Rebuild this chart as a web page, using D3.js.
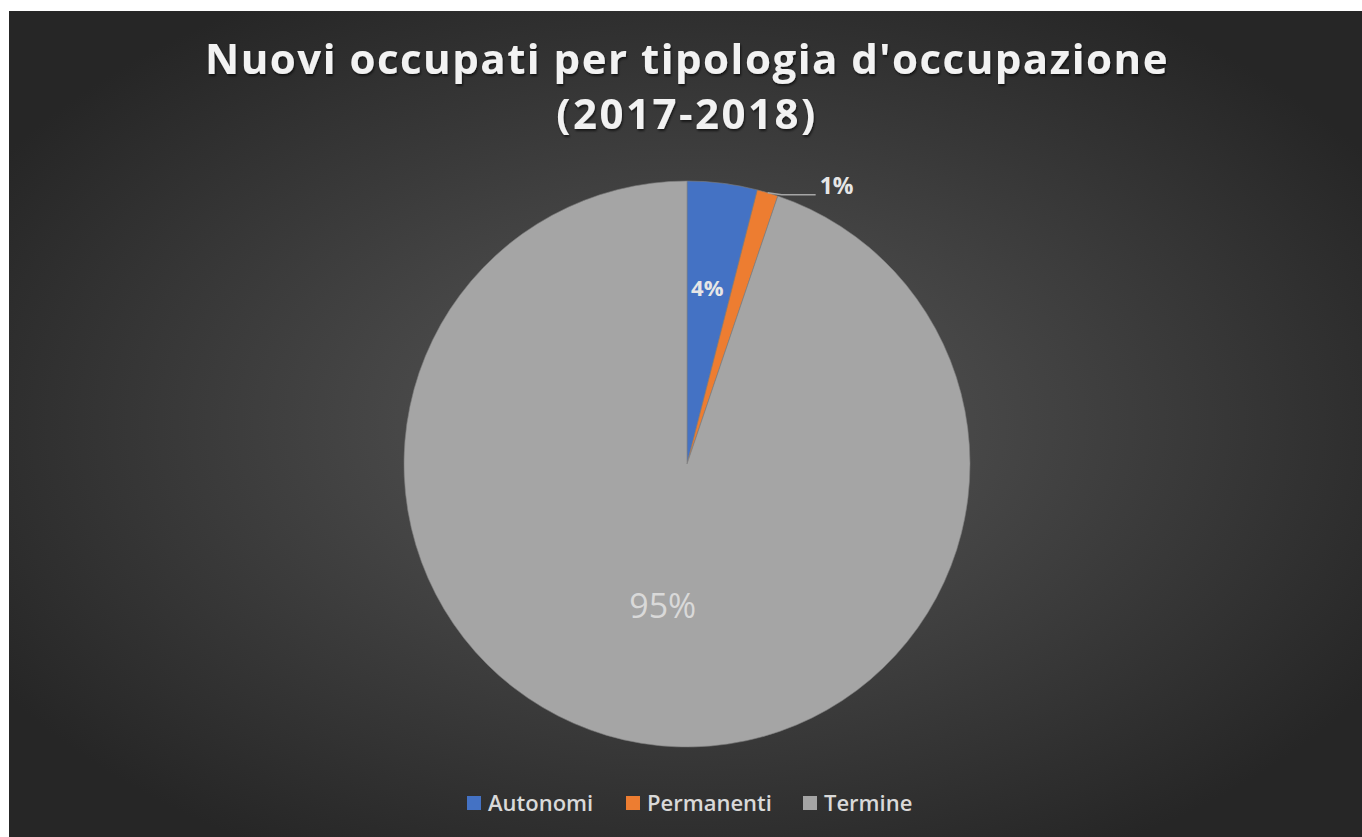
<!DOCTYPE html>
<html>
<head>
<meta charset="utf-8">
<script src="https://cdn.jsdelivr.net/npm/d3@7"></script>
<style>
  html, body { margin: 0; padding: 0; background: #fff; }
  svg { display: block; }
</style>
</head>
<body>
<div id="chart"></div>
<script>
// data
const categories = ["Autonomi", "Permanenti", "Termine"];
const shares = [4.0, 1.2, 94.8];
const labels = ["4%", "1%", "95%"];
const colours = ["#4472c4", "#ed7d31", "#a5a5a5"];
const titleLines = ["Nuovi occupati per tipologia d'occupazione", "(2017-2018)"];

const W = 1362, H = 837;
const bg = { x: 9, y: 11 };
const cx = 687, cy = 464, radius = 283;

const svg = d3.select("#chart").append("svg")
    .attr("width", W).attr("height", H);

const defs = svg.append("defs");
const grad = defs.append("radialGradient").attr("id", "bgGrad")
    .attr("cx", "50%").attr("cy", "50%").attr("r", "60%");
grad.append("stop").attr("offset", "0%").attr("stop-color", "#595959");
grad.append("stop").attr("offset", "100%").attr("stop-color", "#262626");

const shadow = defs.append("filter").attr("id", "shadow")
    .attr("x", "-5%").attr("y", "-20%").attr("width", "110%").attr("height", "140%");
shadow.append("feDropShadow")
    .attr("dx", 1).attr("dy", 2).attr("stdDeviation", 1.2)
    .attr("flood-color", "#000").attr("flood-opacity", 0.6);

svg.append("rect")
    .attr("x", bg.x).attr("y", bg.y)
    .attr("width", W - bg.x).attr("height", H - bg.y)
    .attr("fill", "url(#bgGrad)");

// title, two lines
const titleFont = "'Open Sans', 'Noto Sans', sans-serif";
svg.selectAll("text.title").data(titleLines).join("text")
    .attr("class", "title")
    .attr("x", cx)
    .attr("y", (d, i) => 74 + i * 55)
    .attr("text-anchor", "middle")
    .attr("fill", "#f2f2f2")
    .attr("filter", "url(#shadow)")
    .style("font-family", titleFont)
    .style("font-weight", "bold")
    .style("font-size", "42px")
    .style("letter-spacing", (d, i) => i === 0 ? "1.5px" : "2.5px")
    .text(d => d);

// pie
const pie = d3.pie().sort(null).value(d => d.v);
const arcs = pie(categories.map((c, i) => ({ c, v: shares[i], i })));
const arc = d3.arc().innerRadius(0).outerRadius(radius);

const g = svg.append("g").attr("transform", `translate(${cx},${cy})`);
g.selectAll("path.slice").data(arcs).join("path")
    .attr("class", "slice")
    .attr("d", arc)
    .attr("fill", d => colours[d.data.i])
    .attr("stroke", "#7f7f7f")
    .attr("stroke-width", 0.6);

// data labels
const labelFont = "'Open Sans', 'Noto Sans', sans-serif";
const inner = d3.arc().innerRadius(radius * 0.6).outerRadius(radius * 0.6);

// Autonomi, inside
g.append("text")
    .datum(arcs[0])
    .attr("x", d => inner.centroid(d)[0] - 1)
    .attr("y", d => inner.centroid(d)[1] + 0)
    .attr("text-anchor", "middle")
    .attr("fill", "#e6e6e6")
    .style("font-family", labelFont).style("font-weight", "bold").style("font-size", "22px")
    .text(labels[0]);

// Permanenti, outside with leader
const pa = arcs[1];
const mid = (pa.startAngle + pa.endAngle) / 2;
const edge = [Math.sin(mid) * radius, -Math.cos(mid) * radius];
g.append("polyline")
    .attr("points", [edge, [edge[0] + 14, edge[1] + 2], [edge[0] + 48, edge[1] + 2]].map(p => p.join(",")).join(" "))
    .attr("fill", "none").attr("stroke", "#a5a5a5").attr("stroke-width", 1.5);
g.append("text")
    .attr("x", edge[0] + 52).attr("y", edge[1] + 1)
    .attr("fill", "#e6e6e6")
    .style("font-family", labelFont).style("font-weight", "bold").style("font-size", "23px")
    .text(labels[1]);

// Termine, inside
const tc = d3.arc().innerRadius(radius * 0.55).outerRadius(radius * 0.55).centroid(arcs[2]);
g.append("text")
    .attr("x", tc[0] + 1).attr("y", tc[1] + 0)
    .attr("text-anchor", "middle")
    .attr("fill", "#d9d9d9")
    .style("font-family", labelFont).style("font-size", "34px")
    .text(labels[2]);

// legend
const legend = svg.append("g").attr("transform", "translate(0,803)");
const legendX = [467, 626, 803];
const items = legend.selectAll("g").data(categories).join("g")
    .attr("transform", (d, i) => `translate(${legendX[i]},0)`);
items.append("rect")
    .attr("x", 0).attr("y", -7).attr("width", 14).attr("height", 14)
    .attr("fill", (d, i) => colours[i]);
items.append("text")
    .attr("x", 21).attr("y", 8)
    .attr("fill", "#d9d9d9")
    .style("font-family", labelFont).style("font-weight", "600").style("font-size", "22px")
    .text(d => d);
</script>
</body>
</html>
